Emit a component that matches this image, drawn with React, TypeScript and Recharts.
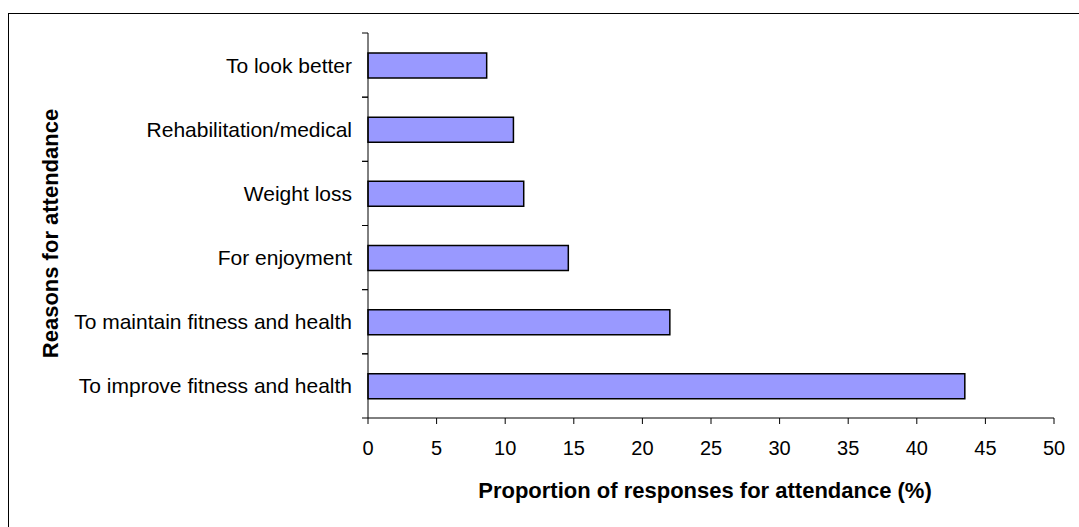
import React from "react";
import { Bar, BarChart, XAxis, YAxis, Label } from "recharts";

// categories listed top to bottom, as they appear in the chart
const reasons = [
  "To look better",
  "Rehabilitation/medical",
  "Weight loss",
  "For enjoyment",
  "To maintain fitness and health",
  "To improve fitness and health",
];
const proportions = [8.65, 10.6, 11.35, 14.6, 22.0, 43.5];
const xTicks = [0, 5, 10, 15, 20, 25, 30, 35, 40, 45, 50];

const data = reasons.map((reason, i) => ({ reason, value: proportions[i] }));

const FONT = '"Liberation Sans", Arial, sans-serif';
const LABEL_GAP = 16;
const TICK_LEN = 6;

// category tick: text at band centre, tick marks on band boundaries (Excel style)
function CategoryTick(props: any) {
  const { x, y, payload } = props;
  const half = payload && payload.offset ? payload.offset : 32;
  const ax = x + LABEL_GAP;
  return (
    <g>
      <line x1={ax - TICK_LEN} x2={ax} y1={y - half} y2={y - half} stroke="#000" />
      <line x1={ax - TICK_LEN} x2={ax} y1={y + half} y2={y + half} stroke="#000" />
      <text x={x} y={y} dy="0.355em" textAnchor="end" fill="#000" fontSize={21} fontFamily={FONT}>
        {payload.value}
      </text>
    </g>
  );
}

// rotated y-axis title, sits a little below the plot centre like the original
function YTitle(props: any) {
  const { viewBox } = props;
  const cx = 50;
  const cy = viewBox.y + viewBox.height / 2 + 8;
  return (
    <text
      x={cx}
      y={cy}
      dy="0.355em"
      transform={`rotate(-90 ${cx} ${cy})`}
      textAnchor="middle"
      fill="#000"
      fontSize={22}
      fontWeight="bold"
      fontFamily={FONT}
    >
      Reasons for attendance
    </text>
  );
}

export default function App() {
  return (
    <div
      style={{
        position: "absolute",
        left: 0,
        top: 0,
        width: 1079,
        height: 527,
        overflow: "hidden",
        background: "#fff",
      }}
    >
      <div
        style={{
          position: "absolute",
          left: 8,
          top: 13,
          width: 1200,
          height: 700,
          border: "1px solid #000",
        }}
      />
      <BarChart
        width={1079}
        height={527}
        data={data}
        layout="vertical"
        margin={{ top: 33, right: 25, bottom: 49, left: 48 }}
        style={{ position: "absolute", left: 0, top: 0 }}
      >
        <XAxis
          type="number"
          domain={[0, 50]}
          ticks={xTicks}
          interval={0}
          height={60}
          stroke="#000"
          tickSize={6}
          tickMargin={17}
          tick={{ fill: "#000", fontSize: 20, fontFamily: FONT }}
        >
          <Label
            value="Proportion of responses for attendance (%)"
            position="bottom"
            offset={4}
            dx={-6}
            style={{ fill: "#000", fontSize: 22, fontWeight: "bold", fontFamily: FONT }}
          />
        </XAxis>
        <XAxis
          xAxisId="top"
          orientation="top"
          type="number"
          domain={[0, 50]}
          height={0}
          tick={false}
          tickLine={false}
          stroke="#808080"
        />
        <YAxis
          type="category"
          dataKey="reason"
          width={320}
          stroke="#000"
          tickLine={false}
          tickSize={0}
          tickMargin={LABEL_GAP}
          interval={0}
          tick={<CategoryTick />}
        >
          <Label content={<YTitle />} />
        </YAxis>
        <YAxis
          yAxisId="right"
          orientation="right"
          type="category"
          dataKey="reason"
          width={0}
          tick={false}
          tickLine={false}
          stroke="#000"
        />
        <Bar
          dataKey="value"
          fill="#9999FF"
          stroke="#000"
          strokeWidth={1.5}
          barSize={25}
          isAnimationActive={false}
        />
      </BarChart>
    </div>
  );
}
